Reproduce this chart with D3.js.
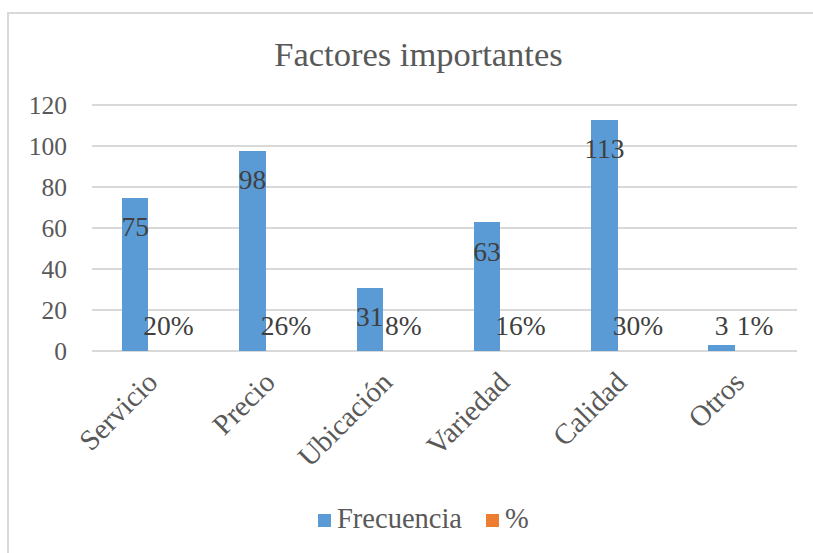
<!DOCTYPE html>
<html>
<head>
<meta charset="utf-8">
<script src="https://cdn.jsdelivr.net/npm/d3@7"></script>
<style>
  html, body { margin: 0; padding: 0; background: #fff; }
  svg { display: block; }
  text { font-family: "Liberation Serif", "Times New Roman", serif; }
</style>
</head>
<body>
<svg id="chart" width="813" height="553"></svg>
<script>
const title = "Factores importantes";
const categories = ["Servicio", "Precio", "Ubicación", "Variedad", "Calidad", "Otros"];
const frecuencia = [75, 98, 31, 63, 113, 3];
const porcentaje = [0.20, 0.26, 0.08, 0.16, 0.30, 0.01];
const seriesNames = ["Frecuencia", "%"];
const yTicks = [0, 20, 40, 60, 80, 100, 120];

const colors = ["#5B9BD5", "#ED7D31"];
const svg = d3.select("#chart");

// chart frame
svg.append("rect")
  .attr("x", 8).attr("y", 13)
  .attr("width", 820).attr("height", 560)
  .attr("fill", "#fff").attr("stroke", "#d9d9d9").attr("stroke-width", 2);

// title
svg.append("text")
  .attr("x", 418.5).attr("y", 66)
  .attr("text-anchor", "middle")
  .attr("font-size", 34.5)
  .attr("fill", "#595959")
  .text(title);

const y = d3.scaleLinear().domain([0, 120]).range([351, 105]);
const x0 = d3.scaleBand().domain(categories).range([89.7, 793.6])
  .paddingInner(0.549).paddingOuter(0.2745);
const x1 = d3.scaleBand().domain(seriesNames).range([0, x0.bandwidth()]).padding(0);

// gridlines
const grid = svg.append("g");
grid.selectAll("line").data(yTicks).join("line")
  .attr("x1", 92).attr("x2", 797)
  .attr("y1", d => y(d)).attr("y2", d => y(d))
  .attr("stroke", "#d9d9d9").attr("stroke-width", 2);

// y axis labels
const yAxis = d3.axisLeft(y).tickValues(yTicks).tickSize(0).tickPadding(0);
const gy = svg.append("g").attr("transform", "translate(67,0)").call(yAxis);
gy.attr("font-family", null).attr("font-size", null);
gy.select(".domain").remove();
gy.selectAll("text")
  .attr("font-size", 25.5)
  .attr("fill", "#595959")
  .attr("dy", "0.34em");

// bars (snapped to whole pixels, as the source renderer does)
const rows = categories.map((c, i) => ({ cat: c, vals: [frecuencia[i], porcentaje[i]] }));
const groups = svg.append("g").selectAll("g").data(rows).join("g")
  .attr("transform", d => `translate(${x0(d.cat)},0)`);
groups.selectAll("rect")
  .data(d => d.vals.map((v, j) => ({ key: seriesNames[j], v, j })))
  .join("rect")
  .attr("x", d => x1(d.key))
  .attr("width", x1.bandwidth())
  .attr("y", d => Math.ceil(y(d.v)))
  .attr("height", d => Math.max(0, y(0) - Math.ceil(y(d.v))))
  .attr("shape-rendering", "crispEdges")
  .attr("fill", d => colors[d.j]);

// data labels
const labelFloor = y(0) - 16;
groups.selectAll("text.lbl")
  .data(d => d.vals.map((v, j) => ({ key: seriesNames[j], v, j })))
  .join("text")
  .attr("class", "lbl")
  .attr("x", d => x1(d.key) + x1.bandwidth() / 2 + (d.j === 1 ? 7 : 0))
  .attr("y", d => Math.min(y(d.v) + 39, labelFloor))
  .attr("text-anchor", "middle")
  .attr("font-size", 27.5)
  .attr("fill", "#404040")
  .text(d => d.j === 0 ? d.v : Math.round(d.v * 100) + "%");

// category labels
svg.append("g").selectAll("text").data(categories).join("text")
  .attr("transform", d => `translate(${x0(d) + x0.bandwidth() / 2 + 11},384) rotate(-45)`)
  .attr("text-anchor", "end")
  .attr("font-size", 29)
  .attr("fill", "#595959")
  .text(d => d);

// legend
const legend = svg.append("g");
const legItems = [
  { name: seriesNames[0], color: colors[0], x: 318 },
  { name: seriesNames[1], color: colors[1], x: 486 }
];
legItems.forEach(it => {
  legend.append("rect").attr("x", it.x).attr("y", 514).attr("width", 13).attr("height", 13).attr("fill", it.color);
  legend.append("text").attr("x", it.x + 19).attr("y", 528)
    .attr("font-size", 28.5).attr("fill", "#595959").text(it.name);
});
</script>
</body>
</html>
